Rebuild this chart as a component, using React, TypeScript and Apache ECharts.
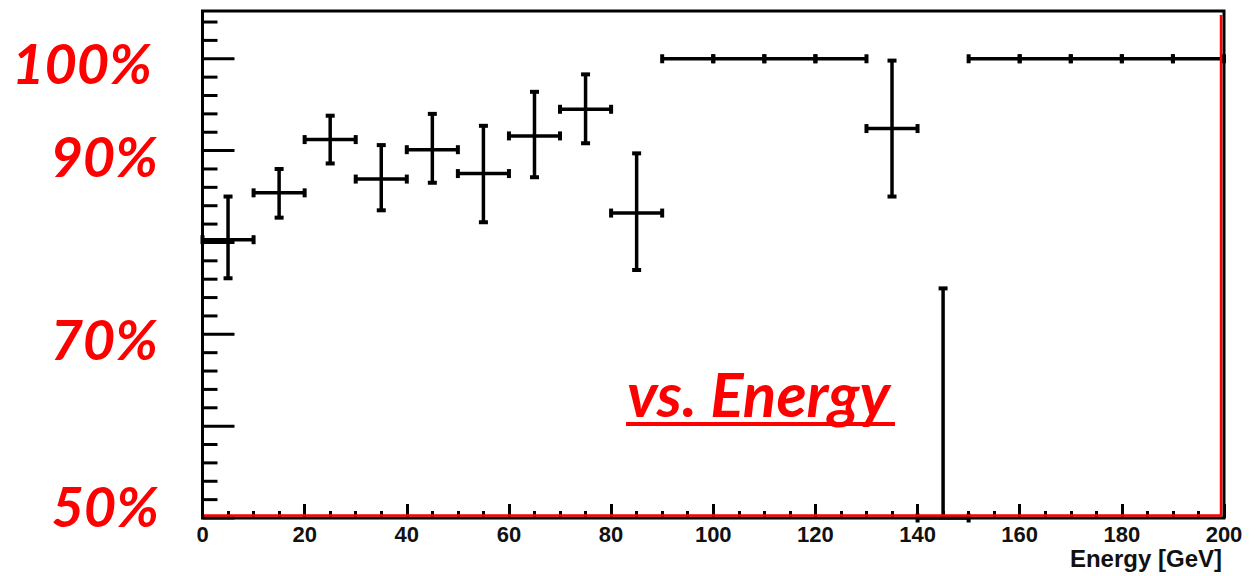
import React, { useEffect, useRef } from "react";
import * as echarts from "echarts";

// ---- data ----
const binCenters = [5, 15, 25, 35, 45, 55, 65, 75, 85, 95, 105, 115, 125, 135, 145, 155, 165, 175, 185, 195];
const effValues = [0.803, 0.854, 0.912, 0.869, 0.901, 0.875, 0.916, 0.945, 0.832, 1, 1, 1, 1, 0.924, 0.5, 1, 1, 1, 1, 1];
const errLow = [0.042, 0.027, 0.026, 0.034, 0.036, 0.053, 0.045, 0.037, 0.062, 0, 0, 0, 0, 0.074, 0, 0, 0, 0, 0, 0];
const errHigh = [0.047, 0.026, 0.026, 0.037, 0.039, 0.052, 0.048, 0.038, 0.065, 0, 0, 0, 0, 0.074, 0.25, 0, 0, 0, 0, 0];
const binHalfWidth = 5;

const yMajorTicks = [0.5, 0.6, 0.7, 0.8, 0.9, 1.0];
const yMinorTicks = [
  0.52, 0.54, 0.56, 0.58, 0.62, 0.64, 0.66, 0.68, 0.72, 0.74, 0.76, 0.78,
  0.82, 0.84, 0.86, 0.88, 0.92, 0.94, 0.96, 0.98, 1.02, 1.04,
];
const pctLabels = ["100%", "90%", "70%", "50%"];
const subtitle = "vs. Energy";
const xAxisTitle = "Energy [GeV]";

const X_MIN = 0;
const X_MAX = 200;
const X_INTERVAL = 20;
const Y_MIN = 0.5;
const Y_MAX = 1.052;

const RED = "#ff0000";
const PCT_FONT = "Lato, 'Open Sans', sans-serif";

export default function App() {
  const ref = useRef<HTMLDivElement>(null);

  useEffect(() => {
    if (!ref.current) return;
    const chart = echarts.init(ref.current, null, { renderer: "svg" });

    const errData = binCenters.map((x, i) => [
      x,
      effValues[i],
      effValues[i] - errLow[i],
      effValues[i] + errHigh[i],
      binHalfWidth,
    ]);
    const tickData = [
      ...yMajorTicks.map((v) => [X_MIN, v, 32]),
      ...yMinorTicks.map((v) => [X_MIN, v, 15]),
    ];

    const pctPos = [
      { x: 152, y: 62 },
      { x: 158, y: 155 },
      { x: 158, y: 338 },
      { x: 159, y: 505 },
    ];

    const txt = (text: string, x: number, y: number, extra: any) => ({
      type: "text",
      x,
      y,
      silent: true,
      style: { text, ...extra },
    });

    chart.setOption({
      animation: false,
      backgroundColor: "#ffffff",
      grid: {
        left: 202.5,
        top: 11,
        right: 25,
        bottom: 58,
        show: true,
        borderColor: "#000",
        borderWidth: 3,
        backgroundColor: "transparent",
      },
      xAxis: {
        type: "value",
        min: X_MIN,
        max: X_MAX,
        interval: X_INTERVAL,
        axisLine: { show: false },
        splitLine: { show: false },
        axisTick: { show: true, inside: true, length: 14, lineStyle: { color: "#000", width: 3 } },
        minorTick: { show: true, splitNumber: 4, length: 7, lineStyle: { color: "#000", width: 3 } },
        minorSplitLine: { show: false },
        axisLabel: {
          color: "#111",
          fontSize: 22,
          fontWeight: "bold",
          fontFamily: "'Liberation Sans', Arial, sans-serif",
          margin: 5,
        },
      },
      yAxis: {
        type: "value",
        min: Y_MIN,
        max: Y_MAX,
        axisLine: { show: false },
        axisTick: { show: false },
        axisLabel: { show: false },
        splitLine: { show: false },
      },
      series: [
        {
          type: "custom",
          name: "yTicks",
          silent: true,
          clip: false,
          z: 3,
          data: tickData,
          encode: { x: 0, y: 1 },
          renderItem: (params: any, api: any) => {
            const p = api.coord([api.value(0), api.value(1)]);
            const len = api.value(2);
            return {
              type: "line",
              shape: { x1: p[0], y1: p[1], x2: p[0] + len, y2: p[1] },
              style: { stroke: "#000", lineWidth: 3 },
            };
          },
        },
        {
          type: "custom",
          name: "efficiency",
          silent: true,
          clip: false,
          z: 4,
          data: errData,
          encode: { x: 0, y: 1 },
          renderItem: (params: any, api: any) => {
            const x = api.value(0);
            const y = api.value(1);
            const lo = api.value(2);
            const hi = api.value(3);
            const hw = api.value(4);
            const c = api.coord([x, y]);
            const l = api.coord([x - hw, y]);
            const r = api.coord([x + hw, y]);
            const bar = { stroke: "#000", lineWidth: 3.5 };
            const cap = { stroke: "#000", lineWidth: 4 };
            const ch: any[] = [
              { type: "line", shape: { x1: l[0], y1: l[1], x2: r[0], y2: r[1] }, style: bar },
              { type: "line", shape: { x1: l[0], y1: l[1] - 4.5, x2: l[0], y2: l[1] + 4.5 }, style: cap },
              { type: "line", shape: { x1: r[0], y1: r[1] - 4.5, x2: r[0], y2: r[1] + 4.5 }, style: cap },
            ];
            const h = api.coord([x, hi]);
            const b = api.coord([x, lo]);
            if (hi > lo) {
              ch.push({ type: "line", shape: { x1: c[0], y1: b[1], x2: c[0], y2: h[1] }, style: bar });
            }
            if (hi > y) {
              ch.push({ type: "line", shape: { x1: h[0] - 4.5, y1: h[1], x2: h[0] + 4.5, y2: h[1] }, style: cap });
            }
            if (lo < y) {
              ch.push({ type: "line", shape: { x1: b[0] - 4.5, y1: b[1], x2: b[0] + 4.5, y2: b[1] }, style: cap });
            }
            return { type: "group", children: ch };
          },
        },
        {
          type: "custom",
          name: "redFrame",
          silent: true,
          clip: false,
          z: 5,
          data: [[X_MAX, Y_MIN]],
          encode: { x: 0, y: 1 },
          renderItem: (params: any, api: any) => {
            const a = api.coord([X_MIN, Y_MIN]);
            const b = api.coord([X_MAX, Y_MIN]);
            const t = api.coord([X_MAX, Y_MAX]);
            return {
              type: "polyline",
              shape: {
                points: [
                  [a[0] + 1.5, a[1] - 2.5],
                  [b[0] - 3, b[1] - 2.5],
                  [t[0] - 3, t[1] + 4],
                ],
              },
              style: { stroke: RED, lineWidth: 2.5, fill: null },
            };
          },
        },
      ],
      graphic: [
        ...pctLabels.map((s, i) =>
          txt(s, pctPos[i].x, pctPos[i].y, {
            fill: RED,
            fontSize: 56,
            fontWeight: "bold",
            fontStyle: "italic",
            fontFamily: PCT_FONT,
            align: "right",
            textAlign: "right",
            verticalAlign: "middle",
            textVerticalAlign: "middle",
          })
        ),
        txt(subtitle, 627, 393, {
          fill: RED,
          fontSize: 62,
          fontWeight: "bold",
          fontStyle: "italic",
          fontFamily: PCT_FONT,
          align: "left",
          textAlign: "left",
          verticalAlign: "middle",
          textVerticalAlign: "middle",
        }),
        {
          type: "rect",
          silent: true,
          shape: { x: 626, y: 422, width: 269, height: 4 },
          style: { fill: RED },
        },
        txt(xAxisTitle, 1222, 558, {
          fill: "#111",
          fontSize: 24,
          fontWeight: "bold",
          fontFamily: "'Liberation Sans', Arial, sans-serif",
          align: "right",
          textAlign: "right",
          verticalAlign: "middle",
          textVerticalAlign: "middle",
        }),
      ],
    });

    return () => chart.dispose();
  }, []);

  return (
    <div
      ref={ref}
      style={{ position: "absolute", left: 0, top: 0, width: 1249, height: 576 }}
    />
  );
}
